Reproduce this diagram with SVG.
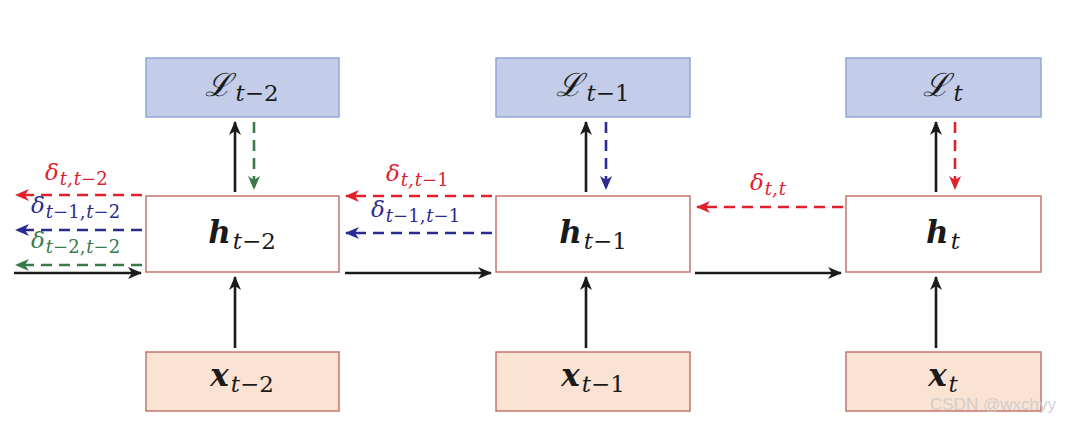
<svg xmlns="http://www.w3.org/2000/svg" width="1073" height="421" viewBox="0 0 1073 421">
<style>
.L{fill:#c3cde9;stroke:#93a6d3;stroke-width:1.5}
.h{fill:#fff;stroke:#c4756c;stroke-width:1.5}
.x{fill:#fbe3d3;stroke:#c4756c;stroke-width:1.5}
.m{font-family:"DejaVu Serif","Liberation Serif",serif;font-style:italic;fill:#1a1a1a}
.mb{font-family:"DejaVu Serif","Liberation Serif",serif;font-style:italic;font-weight:bold;fill:#1a1a1a}
.up{font-style:normal;font-weight:normal}
.sub{font-style:italic;font-weight:normal}
.k{stroke:#1a1a1a;stroke-width:2.6;fill:none}
.r{stroke:#e0202c;stroke-width:2.6;fill:none;stroke-dasharray:11 7}
.b{stroke:#2a2a90;stroke-width:2.6;fill:none;stroke-dasharray:11 7}
.g{stroke:#3a7a48;stroke-width:2.6;fill:none;stroke-dasharray:11 7}
.dr{fill:#e0202c}.db{fill:#2a2a90}.dg{fill:#3a7a48}
</style>
<defs>
<marker id="ak" viewBox="0 0 14 12" refX="13" refY="6" markerWidth="14" markerHeight="12" markerUnits="userSpaceOnUse" orient="auto"><path d="M0,0 L14,6 L0,12 L4,6 Z" fill="#1a1a1a"/></marker>
<marker id="ar" viewBox="0 0 14 12" refX="13" refY="6" markerWidth="14" markerHeight="12" markerUnits="userSpaceOnUse" orient="auto"><path d="M0,0 L14,6 L0,12 L4,6 Z" fill="#e0202c"/></marker>
<marker id="ab" viewBox="0 0 14 12" refX="13" refY="6" markerWidth="14" markerHeight="12" markerUnits="userSpaceOnUse" orient="auto"><path d="M0,0 L14,6 L0,12 L4,6 Z" fill="#2a2a90"/></marker>
<marker id="ag" viewBox="0 0 14 12" refX="13" refY="6" markerWidth="14" markerHeight="12" markerUnits="userSpaceOnUse" orient="auto"><path d="M0,0 L14,6 L0,12 L4,6 Z" fill="#3a7a48"/></marker>
</defs>
<rect width="1073" height="421" fill="#fff"/>

<g id="L1"><rect class="L" x="146" y="58" width="193" height="59"/><text class="m" x="242" y="96" text-anchor="middle" font-size="32">ℒ<tspan class="sub" font-size="23" dx="3" dy="5">t</tspan><tspan class="up" font-size="23">−2</tspan></text></g>
<g id="L2"><rect class="L" x="496" y="58" width="194" height="59"/><text class="m" x="593" y="96" text-anchor="middle" font-size="32">ℒ<tspan class="sub" font-size="23" dx="3" dy="5">t</tspan><tspan class="up" font-size="23">−1</tspan></text></g>
<g id="L3"><rect class="L" x="846" y="58" width="195" height="59"/><text class="m" x="943" y="96" text-anchor="middle" font-size="32">ℒ<tspan class="sub" font-size="23" dx="3" dy="5">t</tspan></text></g>

<g id="h1"><rect class="h" x="146" y="196" width="193" height="76"/><text class="mb" x="242" y="243" text-anchor="middle" font-size="31">h<tspan class="sub" font-size="23" dx="2" dy="6">t</tspan><tspan class="up" font-size="23">−2</tspan></text></g>
<g id="h2"><rect class="h" x="496" y="196" width="194" height="76"/><text class="mb" x="593" y="243" text-anchor="middle" font-size="31">h<tspan class="sub" font-size="23" dx="2" dy="6">t</tspan><tspan class="up" font-size="23">−1</tspan></text></g>
<g id="h3"><rect class="h" x="846" y="196" width="195" height="76"/><text class="mb" x="943" y="243" text-anchor="middle" font-size="31">h<tspan class="sub" font-size="23" dx="2" dy="6">t</tspan></text></g>

<g id="x1"><rect class="x" x="146" y="352" width="193" height="59"/><text class="mb" x="242" y="386" text-anchor="middle" font-size="31">x<tspan class="sub" font-size="23" dx="2" dy="6">t</tspan><tspan class="up" font-size="23">−2</tspan></text></g>
<g id="x2"><rect class="x" x="496" y="352" width="194" height="59"/><text class="mb" x="593" y="386" text-anchor="middle" font-size="31">x<tspan class="sub" font-size="23" dx="2" dy="6">t</tspan><tspan class="up" font-size="23">−1</tspan></text></g>
<g id="x3"><rect class="x" x="846" y="352" width="195" height="59"/><text class="mb" x="943" y="386" text-anchor="middle" font-size="31">x<tspan class="sub" font-size="23" dx="2" dy="6">t</tspan></text></g>

<g id="connectors">
<line class="k" x1="235" y1="192" x2="235" y2="122" marker-end="url(#ak)"/>
<line class="k" x1="586" y1="192" x2="586" y2="122" marker-end="url(#ak)"/>
<line class="k" x1="936" y1="192" x2="936" y2="122" marker-end="url(#ak)"/>
<line class="k" x1="235" y1="348" x2="235" y2="277" marker-end="url(#ak)"/>
<line class="k" x1="586" y1="348" x2="586" y2="277" marker-end="url(#ak)"/>
<line class="k" x1="936" y1="348" x2="936" y2="277" marker-end="url(#ak)"/>
<line class="k" x1="14" y1="273" x2="141" y2="273" marker-end="url(#ak)"/>
<line class="k" x1="345" y1="273" x2="491" y2="273" marker-end="url(#ak)"/>
<line class="k" x1="695" y1="273" x2="841" y2="273" marker-end="url(#ak)"/>
<line class="g" x1="254" y1="122" x2="254" y2="189" marker-end="url(#ag)"/>
<line class="b" x1="606" y1="122" x2="606" y2="189" marker-end="url(#ab)"/>
<line class="r" x1="955" y1="122" x2="955" y2="189" marker-end="url(#ar)"/>
<line class="r" x1="142" y1="195" x2="16" y2="195" marker-end="url(#ar)"/>
<line class="b" x1="142" y1="230" x2="16" y2="230" marker-end="url(#ab)"/>
<line class="g" x1="142" y1="265" x2="16" y2="265" marker-end="url(#ag)"/>
<line class="r" x1="492" y1="196" x2="346" y2="196" marker-end="url(#ar)"/>
<line class="b" x1="492" y1="233" x2="346" y2="233" marker-end="url(#ab)"/>
<line class="r" x1="843" y1="207" x2="697" y2="207" marker-end="url(#ar)"/>
</g>

<g id="labels">
<text class="m dr" x="45" y="180" font-size="23">δ<tspan font-size="18" dx="1" dy="5">t,</tspan><tspan font-size="18" dx="1">t</tspan><tspan class="up" font-size="18">−2</tspan></text>
<text class="m db" x="31" y="213" font-size="23">δ<tspan font-size="18" dx="1" dy="5">t</tspan><tspan class="up" font-size="18">−1,</tspan><tspan font-size="18" dx="1">t</tspan><tspan class="up" font-size="18">−2</tspan></text>
<text class="m dg" x="31" y="248" font-size="23">δ<tspan font-size="18" dx="1" dy="5">t</tspan><tspan class="up" font-size="18">−2,</tspan><tspan font-size="18" dx="1">t</tspan><tspan class="up" font-size="18">−2</tspan></text>
<text class="m dr" x="386" y="181" font-size="23">δ<tspan font-size="18" dx="1" dy="5">t,</tspan><tspan font-size="18" dx="1">t</tspan><tspan class="up" font-size="18">−1</tspan></text>
<text class="m db" x="371" y="217" font-size="23">δ<tspan font-size="18" dx="1" dy="5">t</tspan><tspan class="up" font-size="18">−1,</tspan><tspan font-size="18" dx="1">t</tspan><tspan class="up" font-size="18">−1</tspan></text>
<text class="m dr" x="750" y="190" font-size="23">δ<tspan font-size="18" dx="1" dy="5">t,</tspan><tspan font-size="18" dx="1">t</tspan></text>
</g>
<text x="930" y="410" font-family="Liberation Sans,Arial,sans-serif" font-size="17" fill="#c8c8c8" fill-opacity="0.85">CSDN @wxchyy</text>
</svg>
